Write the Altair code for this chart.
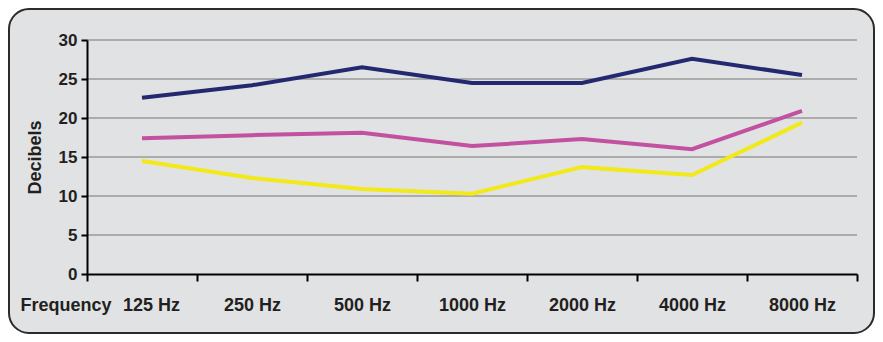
import altair as alt
import pandas as pd

freqs = ["125 Hz", "250 Hz", "500 Hz", "1000 Hz", "2000 Hz", "4000 Hz", "8000 Hz"]
series_a = [22.6, 24.2, 26.5, 24.5, 24.5, 27.6, 25.5]
series_b = [17.4, 17.8, 18.1, 16.4, 17.3, 16.0, 20.9]
series_c = [14.5, 12.3, 10.9, 10.3, 13.7, 12.7, 19.4]
series_names = ["Series A", "Series B", "Series C"]
series_colors = ["#24286f", "#c2519f", "#f1e919"]
grid_values = [5, 10, 15, 20, 25, 30]
y_ticks = [0, 5, 10, 15, 20, 25, 30]

rows = []
for name, vals in zip(series_names, [series_a, series_b, series_c]):
    for f, v in zip(freqs, vals):
        rows.append({"freq": f, "db": v, "series": name})
df = pd.DataFrame(rows)

W, H = 770, 234
PL, PT, PR, PB = 79, 32, 18, 60
FONT = "Liberation Sans"
TXT = "#231f20"

yscale = alt.Scale(domain=[0, 30], nice=False, zero=True)
yaxis = alt.Axis(
    title="Decibels", values=y_ticks, titleFont=FONT, titleFontSize=18,
    titleFontWeight="bold", titleColor=TXT, titlePadding=14,
    labelFont=FONT, labelFontSize=17, labelFontWeight="bold", labelColor=TXT,
    labelPadding=4, domainColor="black", domainWidth=2, tickColor="black",
    tickWidth=2, tickSize=6, grid=False, zindex=1,
)

bg = alt.Chart(pd.DataFrame({"k": [0]})).mark_rect(
    fill="#e1e2e4", stroke="#2b2b2b", strokeWidth=2, cornerRadius=20
).encode(
    x=alt.value(-PL + 1), x2=alt.value(W + PR - 1),
    y=alt.value(-PT + 1), y2=alt.value(H + PB - 1),
)

grid = alt.Chart(pd.DataFrame({"db": grid_values})).mark_rule(
    color="#9a9a9a", strokeWidth=1.5
).encode(
    y=alt.Y("db:Q", scale=yscale, axis=yaxis),
    x=alt.value(0), x2=alt.value(W),
)

lines = alt.Chart(df).mark_line(strokeWidth=4).encode(
    x=alt.X(
        "freq:N", sort=freqs,
        scale=alt.Scale(type="band", paddingInner=0, paddingOuter=0),
        bandPosition=0.5,
        axis=alt.Axis(
            title="Frequency", titleX=-67, titleY=31, titleAlign="left",
            titleBaseline="middle", titleFont=FONT, titleFontSize=18,
            titleFontWeight="bold", titleColor=TXT,
            labelAngle=0, labelFont=FONT, labelFontSize=18, labelFontWeight="bold",
            labelColor=TXT, labelBaseline="middle", labelPadding=24,
            labelOffset={"condition": {"test": "datum.value === '125 Hz'", "value": 9}, "value": 0},
            domainColor="black", domainWidth=2, tickColor="black", tickWidth=2,
            tickSize=7, tickBand="extent", grid=False, zindex=1,
        ),
    ),
    y=alt.Y("db:Q", scale=yscale, axis=yaxis),
    color=alt.Color("series:N", scale=alt.Scale(domain=series_names, range=series_colors), legend=None),
    order=alt.Order("series:N"),
)

chart = alt.layer(bg, grid, lines).properties(
    width=W, height=H,
    autosize=alt.AutoSizeParams(type="none"),
    padding={"left": PL, "top": PT, "right": PR, "bottom": PB},
    background="white",
).configure_view(stroke=None)

chart.save("out.html", embed_options={"renderer": "svg", "actions": False})
